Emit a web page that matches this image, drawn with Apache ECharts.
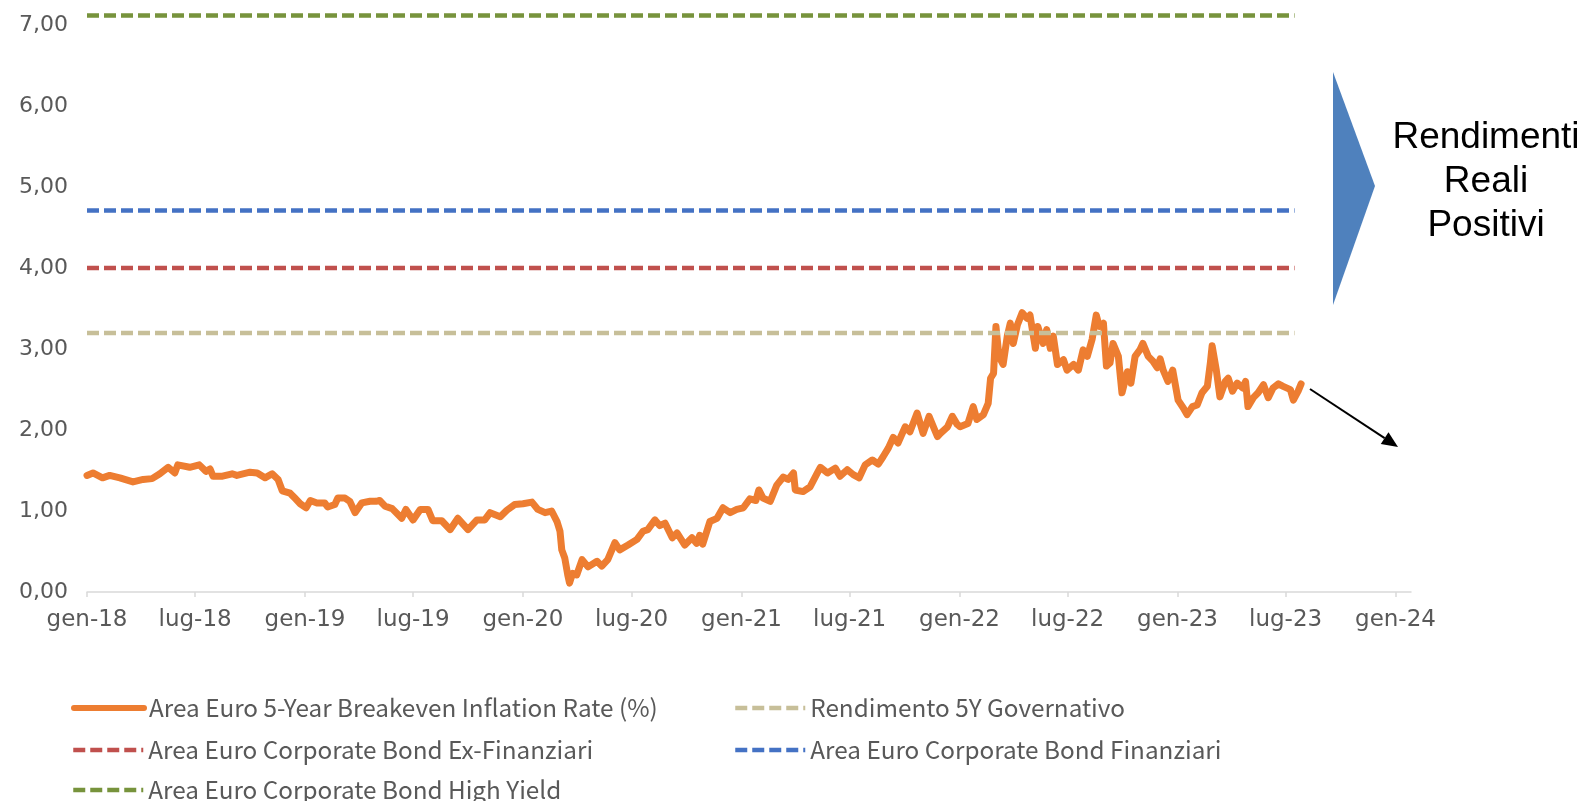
<!DOCTYPE html>
<html>
<head>
<meta charset="utf-8">
<script src="https://cdn.jsdelivr.net/npm/echarts@6/dist/echarts.min.js"></script>
<style>
  html, body { margin: 0; padding: 0; background: #fff; }
  #chart { width: 1588px; height: 801px; }
</style>
</head>
<body>
<div id="chart"></div>
<script>
// breakeven inflation
const dates = [
  '2018-01-01','2018-01-11','2018-01-27','2018-02-08','2018-02-25','2018-03-19','2018-04-05','2018-04-20',
  '2018-05-03','2018-05-17','2018-05-28','2018-06-02','2018-06-22','2018-07-08','2018-07-19','2018-07-26',
  '2018-07-31','2018-08-16','2018-09-01','2018-09-09','2018-10-01','2018-10-13','2018-10-26','2018-11-07',
  '2018-11-17','2018-11-24','2018-12-07','2018-12-15','2018-12-24','2019-01-03','2019-01-10','2019-01-21',
  '2019-02-03','2019-02-08','2019-02-20','2019-02-25','2019-03-09','2019-03-17','2019-03-26','2019-04-06',
  '2019-04-20','2019-04-30','2019-05-06','2019-05-15','2019-05-27','2019-06-12','2019-06-19','2019-07-01',
  '2019-07-13','2019-07-26','2019-08-03','2019-08-18','2019-09-01','2019-09-14','2019-10-01','2019-10-16',
  '2019-10-29','2019-11-07','2019-11-24','2019-12-05','2019-12-18','2020-01-01','2020-01-16','2020-01-26',
  '2020-02-07','2020-02-18','2020-02-27','2020-03-03','2020-03-06','2020-03-11','2020-03-16','2020-03-19',
  '2020-03-24','2020-03-31','2020-04-09','2020-04-19','2020-05-04','2020-05-12','2020-05-22','2020-06-03',
  '2020-06-11','2020-06-25','2020-07-10','2020-07-20','2020-07-28','2020-08-09','2020-08-17','2020-08-26',
  '2020-09-07','2020-09-15','2020-09-28','2020-10-10','2020-10-18','2020-10-23','2020-10-28','2020-11-09',
  '2020-11-21','2020-12-01','2020-12-13','2020-12-24','2021-01-04','2021-01-15','2021-01-25','2021-01-30',
  '2021-02-06','2021-02-18','2021-03-01','2021-03-12','2021-03-20','2021-03-29','2021-04-01','2021-04-14',
  '2021-04-26','2021-05-08','2021-05-13','2021-05-25','2021-06-07','2021-06-15','2021-06-27','2021-07-07',
  '2021-07-17','2021-07-27','2021-08-08','2021-08-18','2021-08-26','2021-09-04','2021-09-12','2021-09-20',
  '2021-10-02','2021-10-10','2021-10-22','2021-11-01','2021-11-11','2021-11-25','2021-11-30','2021-12-12',
  '2021-12-20','2021-12-28','2022-01-02','2022-01-15','2022-01-24','2022-01-30','2022-02-10','2022-02-18',
  '2022-02-22','2022-02-27','2022-03-03','2022-03-08','2022-03-15','2022-03-22','2022-03-27','2022-04-01',
  '2022-04-08','2022-04-16','2022-04-24','2022-04-29','2022-05-08','2022-05-12','2022-05-21','2022-05-27',
  '2022-06-02','2022-06-07','2022-06-14','2022-06-24','2022-06-30','2022-07-11','2022-07-19','2022-07-27',
  '2022-08-03','2022-08-11','2022-08-18','2022-08-23','2022-08-30','2022-09-04','2022-09-10','2022-09-15',
  '2022-09-24','2022-09-30','2022-10-09','2022-10-15','2022-10-22','2022-10-30','2022-11-04','2022-11-13',
  '2022-11-21','2022-11-28','2022-12-03','2022-12-08','2022-12-16','2022-12-24','2023-01-02','2023-01-11',
  '2023-01-17','2023-01-26','2023-02-03','2023-02-11','2023-02-20','2023-02-25','2023-02-28','2023-03-07',
  '2023-03-13','2023-03-22','2023-03-27','2023-04-03','2023-04-11','2023-04-20','2023-04-25','2023-04-29',
  '2023-05-08','2023-05-16','2023-05-25','2023-06-02','2023-06-10','2023-06-19','2023-06-27','2023-07-09',
  '2023-07-14','2023-07-22','2023-07-27'
];
const breakeven = [
  1.44,1.47,1.41,1.44,1.41,1.36,1.39,1.40,
  1.46,1.54,1.47,1.57,1.54,1.57,1.49,1.52,
  1.43,1.43,1.46,1.44,1.48,1.47,1.41,1.46,
  1.39,1.25,1.22,1.16,1.09,1.04,1.13,1.10,
  1.10,1.05,1.08,1.16,1.16,1.12,0.98,1.10,
  1.12,1.12,1.13,1.06,1.03,0.91,1.02,0.89,
  1.02,1.02,0.88,0.88,0.77,0.91,0.77,0.89,
  0.89,0.98,0.93,1.01,1.08,1.09,1.11,1.02,
  0.98,1.00,0.87,0.75,0.52,0.42,0.21,0.11,
  0.23,0.21,0.40,0.31,0.38,0.32,0.40,0.61,
  0.52,0.58,0.65,0.75,0.77,0.89,0.82,0.85,
  0.67,0.73,0.58,0.67,0.60,0.70,0.59,0.87,
  0.91,1.04,0.98,1.02,1.04,1.15,1.13,1.26,
  1.16,1.12,1.32,1.42,1.39,1.47,1.26,1.24,
  1.30,1.47,1.54,1.47,1.53,1.43,1.51,1.45,
  1.41,1.57,1.63,1.58,1.67,1.78,1.91,1.84,
  2.04,1.98,2.21,1.96,2.17,1.92,1.96,2.04,
  2.17,2.07,2.04,2.08,2.29,2.13,2.19,2.33,
  2.64,2.70,3.28,2.91,2.81,3.16,3.32,3.07,
  3.30,3.45,3.38,3.42,3.01,3.28,3.07,3.24,
  3.01,3.16,2.81,2.87,2.74,2.81,2.74,2.99,
  2.91,3.12,3.42,3.28,3.32,2.79,2.83,3.07,
  2.91,2.46,2.72,2.58,2.91,2.99,3.07,2.91,
  2.85,2.77,2.88,2.74,2.60,2.74,2.37,2.27,
  2.19,2.29,2.31,2.46,2.54,2.83,3.04,2.74,
  2.41,2.60,2.64,2.48,2.58,2.52,2.60,2.29,
  2.40,2.46,2.56,2.40,2.52,2.57,2.54,2.50,
  2.37,2.48,2.57
];

// flat yield levels
const levelNames = [
  'Rendimento 5Y Governativo',
  'Area Euro Corporate Bond Ex-Finanziari',
  'Area Euro Corporate Bond Finanziari',
  'Area Euro Corporate Bond High Yield'
];
const levelValues = [3.2, 4.0, 4.71, 7.12];
const levelSpan = ['2018-01-01', '2023-07-16'];

const lineName = 'Area Euro 5-Year Breakeven Inflation Rate (%)';
const tickDates = [
  '2018-01-01','2018-07-01','2019-01-01','2019-07-01','2020-01-01','2020-07-01','2021-01-01',
  '2021-07-01','2022-01-01','2022-07-01','2023-01-01','2023-07-01','2024-01-01'
];
const monthNames = ['gen','feb','mar','apr','mag','giu','lug','ago','set','ott','nov','dic'];

function parseDay (s) {
  let p = s.split('-')
  return new Date(+p[0], +p[1] - 1, +p[2]).getTime()
}

const lineColor = '#ED7D31';
const levelColors = ['#C7BF99', '#C0504D', '#4472C4', '#77933C'];
const labelColor = '#595959';
const dash = [12, 5];

let chart = echarts.init(document.getElementById('chart'));

let series = [{
  name: lineName,
  type: 'line',
  symbol: 'none',
  data: dates.map((d, i) => [parseDay(d), breakeven[i]]),
  lineStyle: { color: lineColor, width: 7, join: 'round', cap: 'round' },
  itemStyle: { color: lineColor },
  z: 2
}];
levelNames.forEach((name, i) => {
  series.push({
    name,
    type: 'line',
    symbol: 'none',
    data: levelSpan.map(d => [parseDay(d), levelValues[i]]),
    lineStyle: { color: levelColors[i], width: 4.5, type: dash, cap: 'butt' },
    itemStyle: { color: levelColors[i] },
    z: 3
  })
});

// legend slots: two columns, three rows
const legendText = { color: labelColor, fontSize: 24.3, fontFamily: 'Noto Sans CJK KR', lineHeight: 26 };
const legendSlots = [
  [lineName, 71, 695, 6], [levelNames[0], 733, 695, 4.5],
  [levelNames[1], 71, 737, 4.5], [levelNames[2], 733, 737, 4.5],
  [levelNames[3], 71, 777, 4.5]
];
let legends = legendSlots.map(s => ({
  data: [s[0]],
  left: s[1],
  top: s[2],
  padding: 0,
  itemWidth: 70,
  itemHeight: 14,
  itemGap: 0,
  itemStyle: { opacity: 0 },
  lineStyle: { width: s[3] },
  textStyle: legendText,
  selectedMode: false
}));

// arrow geometry for the black pointer
const arrowFrom = [1310, 389], arrowTo = [1398, 447];
let dx = arrowTo[0] - arrowFrom[0], dy = arrowTo[1] - arrowFrom[1];
let len = Math.sqrt(dx * dx + dy * dy);
let ux = dx / len, uy = dy / len;
let bx = arrowTo[0] - 16 * ux, by = arrowTo[1] - 16 * uy;

let tickValues = tickDates.map(parseDay);

chart.setOption({
  animation: false,
  backgroundColor: '#fff',
  grid: { left: 87, right: 177, top: 9, bottom: 209, containLabel: false, outerBoundsMode: 'none' },
  legend: legends,
  xAxis: {
    type: 'value',
    min: parseDay('2018-01-01'),
    max: parseDay('2024-01-27'),
    axisLine: { show: true, lineStyle: { color: '#D9D9D9', width: 1.5 } },
    axisTick: { show: true, length: 5, lineStyle: { color: '#D9D9D9', width: 1.5 }, customValues: tickValues },
    splitLine: { show: false },
    axisLabel: {
      customValues: tickValues,
      color: labelColor,
      fontSize: 23,
      fontFamily: 'DejaVu Sans',
      margin: 17,
      formatter: v => {
        let d = new Date(v)
        return monthNames[d.getMonth()] + '-' + String(d.getFullYear()).slice(2)
      }
    }
  },
  yAxis: {
    type: 'value',
    min: 0,
    max: 7.2,
    interval: 1,
    axisLine: { show: false },
    axisTick: { show: false },
    splitLine: { show: false },
    axisLabel: {
      color: labelColor,
      fontSize: 22,
      fontFamily: 'DejaVu Sans',
      margin: 19,
      showMaxLabel: false,
      formatter: v => v.toFixed(2).replace('.', ',')
    }
  },
  series,
  graphic: [
    {
      type: 'polygon',
      shape: { points: [[1333, 72], [1375, 186], [1333, 305]] },
      style: { fill: '#4F81BD' }
    },
    {
      type: 'text',
      x: 1486,
      y: 116,
      style: {
        text: 'Rendimenti\nReali\nPositivi',
        fill: '#000',
        font: '37px "Liberation Sans"',
        align: 'center',
        verticalAlign: 'top',
        lineHeight: 44
      }
    },
    {
      type: 'line',
      shape: { x1: arrowFrom[0], y1: arrowFrom[1], x2: bx, y2: by },
      style: { stroke: '#000', lineWidth: 2 }
    },
    {
      type: 'polygon',
      shape: { points: [arrowTo, [bx - 7 * uy, by + 7 * ux], [bx + 7 * uy, by - 7 * ux]] },
      style: { fill: '#000' }
    }
  ]
});
</script>
</body>
</html>
